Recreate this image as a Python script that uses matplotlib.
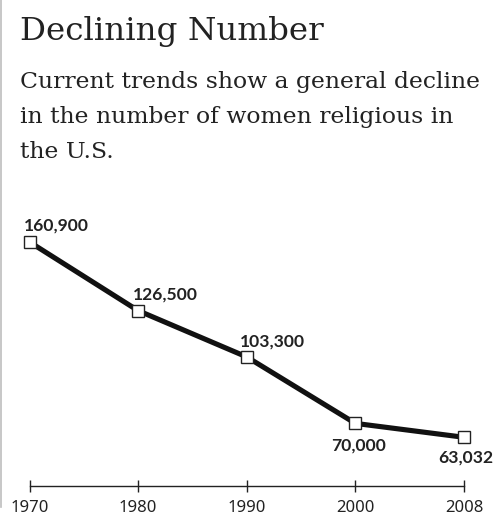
import matplotlib.pyplot as plt
from matplotlib.lines import Line2D

# data
years = ['1970', '1980', '1990', '2000', '2008']
sisters = [160900, 126500, 103300, 70000, 63032]
labels = ['160,900', '126,500', '103,300', '70,000', '63,032']

W, H = 494, 517
fig = plt.figure(figsize=(W / 100, H / 100), dpi=100)

def fy(px):
    return 1 - px / H

# title + subtitle
fig.text(20 / W, fy(40), 'Declining Number', family='DejaVu Serif',
         fontsize=23.4, color='#222222', va='baseline')
sub = ['Current trends show a general decline',
       'in the number of women religious in',
       'the U.S.']
for i, line in enumerate(sub):
    fig.text(20 / W, fy(88 + 35 * i), line, family='DejaVu Serif',
             fontsize=16.9, color='#222222', va='baseline')

# thin grey rule on the left edge
fig.add_artist(Line2D([1 / W, 1 / W], [fy(507), 1], color='#bdbdbd', lw=1.2,
                      transform=fig.transFigure))

# plot area: bottom edge sits on the time axis
ax = fig.add_axes([0, fy(485.7), 1, (485.7 - 200) / H])
x = list(range(len(years)))
ax.plot(x, sisters, color='#111111', lw=3.7, solid_joinstyle='miter',
        marker='s', ms=8, mfc='white', mec='#222222', mew=1, zorder=3,
        clip_on=False)

ax.set_xlim(-0.2716, 4.276)
ax.set_ylim(38775, 181950)

# label offsets in pixels (dx, dy, ha)
offs = [(-6, 11, 'left'), (-5, 11, 'left'), (-6.5, 10, 'left'),
        (3, -26.7, 'center'), (2, -25.4, 'center')]
for xi, v, lab, (dx, dy, ha) in zip(x, sisters, labels, offs):
    ax.annotate(lab, (xi, v), xytext=(dx * 0.72, dy * 0.72),
                textcoords='offset points', ha=ha, va='baseline',
                family='Lato', fontweight='bold', fontsize=12.6,
                color='#222222', annotation_clip=False)

for s in ['top', 'left', 'right']:
    ax.spines[s].set_visible(False)
ax.spines['bottom'].set_bounds(0, 4)
ax.spines['bottom'].set_color('#222222')
ax.spines['bottom'].set_linewidth(1)
ax.set_yticks([])
ax.set_xticks(x)
ax.set_xticklabels(years, family='Noto Sans', fontsize=12, color='#222222')
ax.tick_params(axis='x', direction='inout', length=9, width=1,
               color='#222222', pad=6)
ax.patch.set_alpha(0)

fig.savefig('out.png', dpi=100)
